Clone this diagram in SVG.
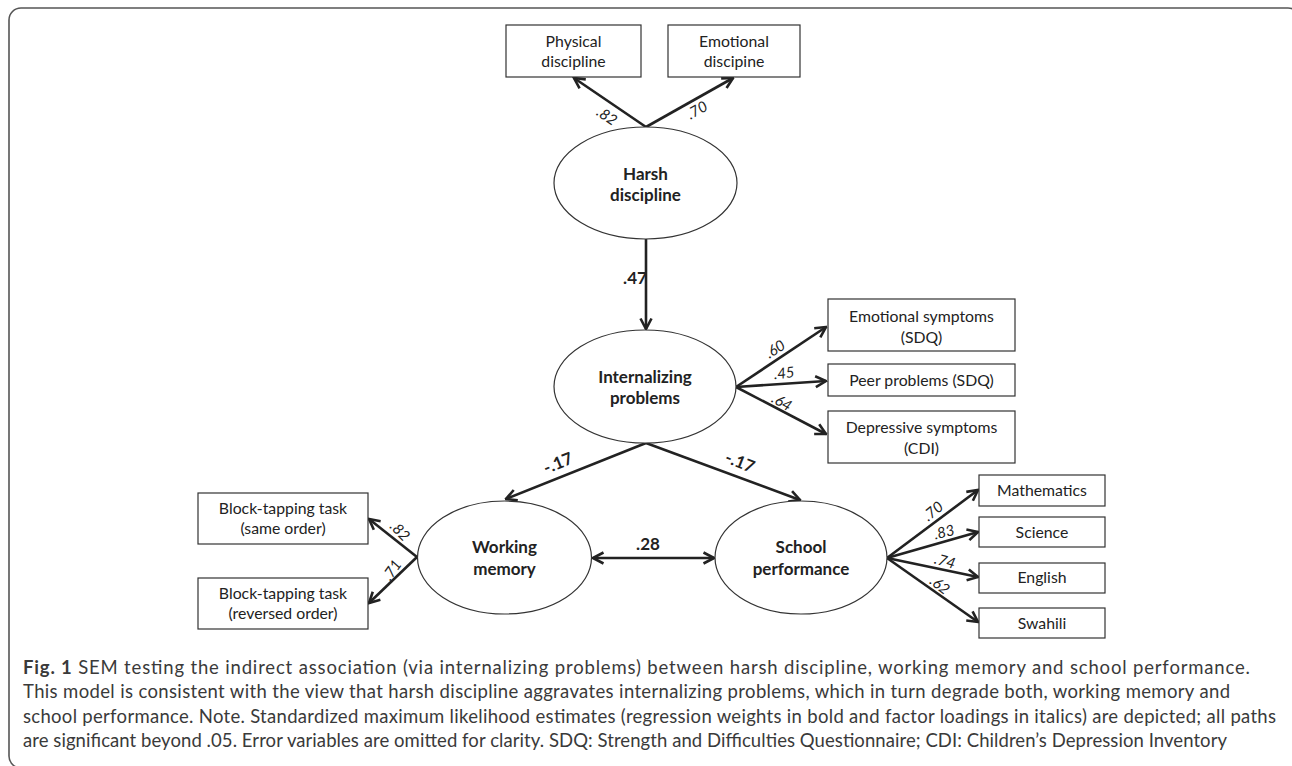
<svg xmlns="http://www.w3.org/2000/svg" width="1292" height="766" viewBox="0 0 1292 766">
<style>
.box{fill:#fff;stroke:#333;stroke-width:1.2}
.ell{fill:#fff;stroke:#333;stroke-width:1.2}
.t{font-family:Lato,"Liberation Sans",sans-serif;font-size:15.8px;fill:#222;text-anchor:middle}
.b{font-family:Lato,"Liberation Sans",sans-serif;font-size:17px;font-weight:bold;fill:#222;text-anchor:middle}
.i{font-family:Lato,"Liberation Sans",sans-serif;font-size:15px;font-style:italic;fill:#222;text-anchor:middle}
.w{font-family:Lato,"Liberation Sans",sans-serif;font-size:17px;font-weight:bold;fill:#222;text-anchor:middle}
.c{font-family:Lato,"Open Sans",sans-serif;font-size:18.5px;fill:#3a3a3a}
.a{fill:none;stroke:#222;stroke-width:2.6}
</style>
<defs>
<marker id="ah" viewBox="0 0 14 14" refX="12.5" refY="7" markerWidth="14" markerHeight="14" orient="auto-start-reverse" markerUnits="userSpaceOnUse">
<path d="M2,1.5 L12.5,7 L2,12.5" fill="none" stroke="#222" stroke-width="2.6"/>
</marker>
</defs>
<rect x="9" y="8" width="1291" height="760" rx="12" fill="none" stroke="#555" stroke-width="1.6"/>

<g id="connectors">
<line class="a" x1="646" y1="127" x2="574" y2="78" marker-end="url(#ah)"/>
<line class="a" x1="646" y1="127" x2="733" y2="78" marker-end="url(#ah)"/>
<line class="a" x1="646" y1="239" x2="646" y2="329" marker-end="url(#ah)"/>
<line class="a" x1="736" y1="387" x2="826" y2="327" marker-end="url(#ah)"/>
<line class="a" x1="736" y1="387" x2="826" y2="381" marker-end="url(#ah)"/>
<line class="a" x1="736" y1="387" x2="826" y2="434" marker-end="url(#ah)"/>
<line class="a" x1="646" y1="443" x2="506" y2="499" marker-end="url(#ah)"/>
<line class="a" x1="646" y1="443" x2="800" y2="500" marker-end="url(#ah)"/>
<line class="a" x1="593" y1="558" x2="714" y2="558" marker-start="url(#ah)" marker-end="url(#ah)"/>
<line class="a" x1="417" y1="557" x2="369" y2="519" marker-end="url(#ah)"/>
<line class="a" x1="417" y1="557" x2="369" y2="603" marker-end="url(#ah)"/>
<line class="a" x1="887" y1="558" x2="978" y2="490" marker-end="url(#ah)"/>
<line class="a" x1="887" y1="558" x2="978" y2="532" marker-end="url(#ah)"/>
<line class="a" x1="887" y1="558" x2="978" y2="577" marker-end="url(#ah)"/>
<line class="a" x1="887" y1="558" x2="978" y2="622" marker-end="url(#ah)"/>
<text class="i" dy="0.35em" transform="translate(607,116) rotate(34)">.82</text>
<text class="i" dy="0.35em" transform="translate(697,110) rotate(-30)">.70</text>
<text class="w" x="635" y="284" text-anchor="end">.47</text>
<text class="i" dy="0.35em" transform="translate(775,349) rotate(-32)">.60</text>
<text class="i" dy="0.35em" transform="translate(784,373) rotate(-6)">.45</text>
<text class="i" dy="0.35em" transform="translate(782,402) rotate(30)">.64</text>
<text class="w" dy="0.35em" transform="translate(558,463) rotate(-22)">-.17</text>
<text class="w" dy="0.35em" transform="translate(740,462) rotate(22)">-.17</text>
<text class="w" x="648" y="550">.28</text>
<text class="i" dy="0.35em" transform="translate(400,531) rotate(45)">.82</text>
<text class="i" dy="0.35em" transform="translate(392,570) rotate(-55)">.71</text>
<text class="i" dy="0.35em" transform="translate(933,511) rotate(-40)">.70</text>
<text class="i" dy="0.35em" transform="translate(944,532) rotate(-14)">.83</text>
<text class="i" dy="0.35em" transform="translate(945,561) rotate(16)">.74</text>
<text class="i" dy="0.35em" transform="translate(940,585) rotate(38)">.62</text>
</g>

<g id="physical">
<rect class="box" x="506" y="25" width="135" height="52"/>
<text class="t" x="573.5" y="47">Physical</text>
<text class="t" x="573.5" y="67">discipline</text>
</g>
<g id="emotional-disc">
<rect class="box" x="668" y="25" width="132" height="52"/>
<text class="t" x="734" y="47">Emotional</text>
<text class="t" x="734" y="67">discipine</text>
</g>
<g id="harsh">
<ellipse class="ell" cx="645.5" cy="183" rx="91.5" ry="56"/>
<text class="b" x="645.5" y="180">Harsh</text>
<text class="b" x="645.5" y="201">discipline</text>
</g>
<g id="internalizing">
<ellipse class="ell" cx="645" cy="386.5" rx="91" ry="56.5"/>
<text class="b" x="645" y="383">Internalizing</text>
<text class="b" x="645" y="404">problems</text>
</g>
<g id="emo-symptoms">
<rect class="box" x="828" y="299" width="187" height="52"/>
<text class="t" x="921.5" y="322">Emotional symptoms</text>
<text class="t" x="921.5" y="343">(SDQ)</text>
</g>
<g id="peer">
<rect class="box" x="828" y="364" width="187" height="32"/>
<text class="t" x="921.5" y="385.5">Peer problems (SDQ)</text>
</g>
<g id="depressive">
<rect class="box" x="828" y="411" width="187" height="52"/>
<text class="t" x="921.5" y="433">Depressive symptoms</text>
<text class="t" x="921.5" y="454">(CDI)</text>
</g>
<g id="working-memory">
<ellipse class="ell" cx="504.5" cy="557.5" rx="87" ry="56.5"/>
<text class="b" x="504.5" y="553">Working</text>
<text class="b" x="504.5" y="575">memory</text>
</g>
<g id="school">
<ellipse class="ell" cx="801" cy="557.5" rx="86" ry="56.5"/>
<text class="b" x="801" y="553">School</text>
<text class="b" x="801" y="575">performance</text>
</g>
<g id="block-same">
<rect class="box" x="198" y="493" width="170" height="51"/>
<text class="t" x="283" y="514">Block-tapping task</text>
<text class="t" x="283" y="534">(same order)</text>
</g>
<g id="block-rev">
<rect class="box" x="198" y="578" width="170" height="51"/>
<text class="t" x="283" y="599">Block-tapping task</text>
<text class="t" x="283" y="619">(reversed order)</text>
</g>
<g id="math">
<rect class="box" x="979" y="475" width="126" height="31"/>
<text class="t" x="1042" y="496">Mathematics</text>
</g>
<g id="science">
<rect class="box" x="979" y="517" width="126" height="30"/>
<text class="t" x="1042" y="538">Science</text>
</g>
<g id="english">
<rect class="box" x="979" y="563" width="126" height="30"/>
<text class="t" x="1042" y="583">English</text>
</g>
<g id="swahili">
<rect class="box" x="979" y="608" width="126" height="30"/>
<text class="t" x="1042" y="629">Swahili</text>
</g>

<g id="caption">
<text class="c" x="23" y="673.5" textLength="1227" lengthAdjust="spacing"><tspan font-weight="bold">Fig. 1</tspan> SEM testing the indirect association (via internalizing problems) between harsh discipline, working memory and school performance.</text>
<text class="c" x="23" y="698" textLength="1207" lengthAdjust="spacing">This model is consistent with the view that harsh discipline aggravates internalizing problems, which in turn degrade both, working memory and</text>
<text class="c" x="23" y="722.5" textLength="1253" lengthAdjust="spacing">school performance. Note. Standardized maximum likelihood estimates (regression weights in bold and factor loadings in italics) are depicted; all paths</text>
<text class="c" x="23" y="747" textLength="1204" lengthAdjust="spacing">are significant beyond .05. Error variables are omitted for clarity. SDQ: Strength and Difficulties Questionnaire; CDI: Children’s Depression Inventory</text>
</g>
</svg>
